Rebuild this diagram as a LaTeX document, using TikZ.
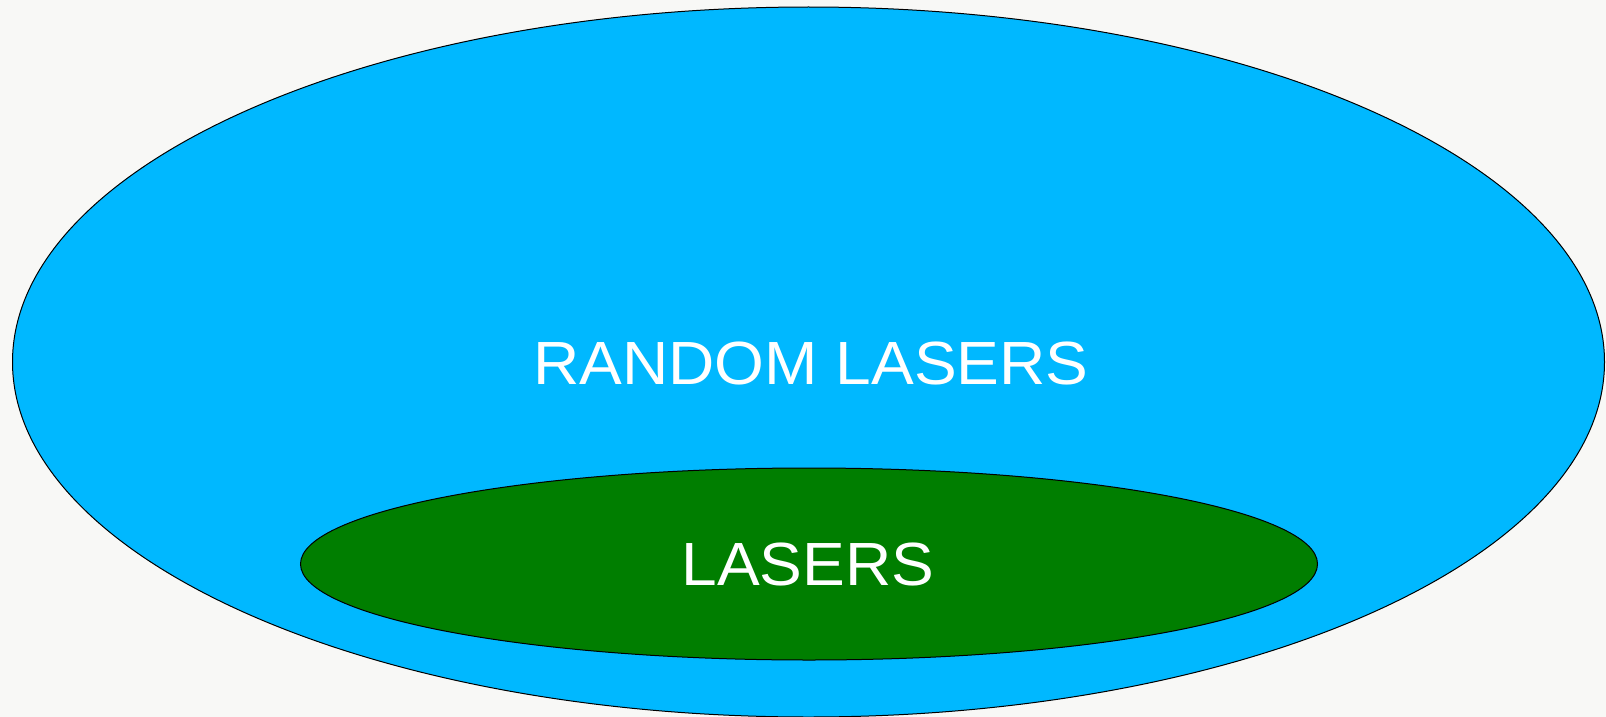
\documentclass[tikz,border=0pt]{standalone}
\usepackage{fontspec}
\setmainfont{Liberation Sans}
\newfontfamily\setlabelfont[FakeStretch=1.05]{Liberation Sans}
\definecolor{skyfill}{RGB}{0,184,255}
\definecolor{leaffill}{RGB}{0,126,0}
\definecolor{paper}{RGB}{248,248,246}
\begin{document}
\begin{tikzpicture}[x=1pt,y=-1pt,
  setshape/.style={draw=black,line width=1pt},
  setlabel/.style={text=white,font=\setlabelfont\fontsize{61}{73}\selectfont,inner sep=0pt}]
  \fill[paper] (0,0) rectangle (1606,717);
  \useasboundingbox (0,0) rectangle (1606,717);
  \draw[setshape,fill=skyfill] (808.5,362) ellipse [x radius=796, y radius=355];
  \draw[setshape,fill=leaffill] (809,564) ellipse [x radius=508.5, y radius=96];
  \node[setlabel,anchor=base] (outer) at (811,384) {RANDOM LASERS};
  \node[setlabel,anchor=base] (inner) at (808,585) {LASERS};
\end{tikzpicture}
\end{document}
